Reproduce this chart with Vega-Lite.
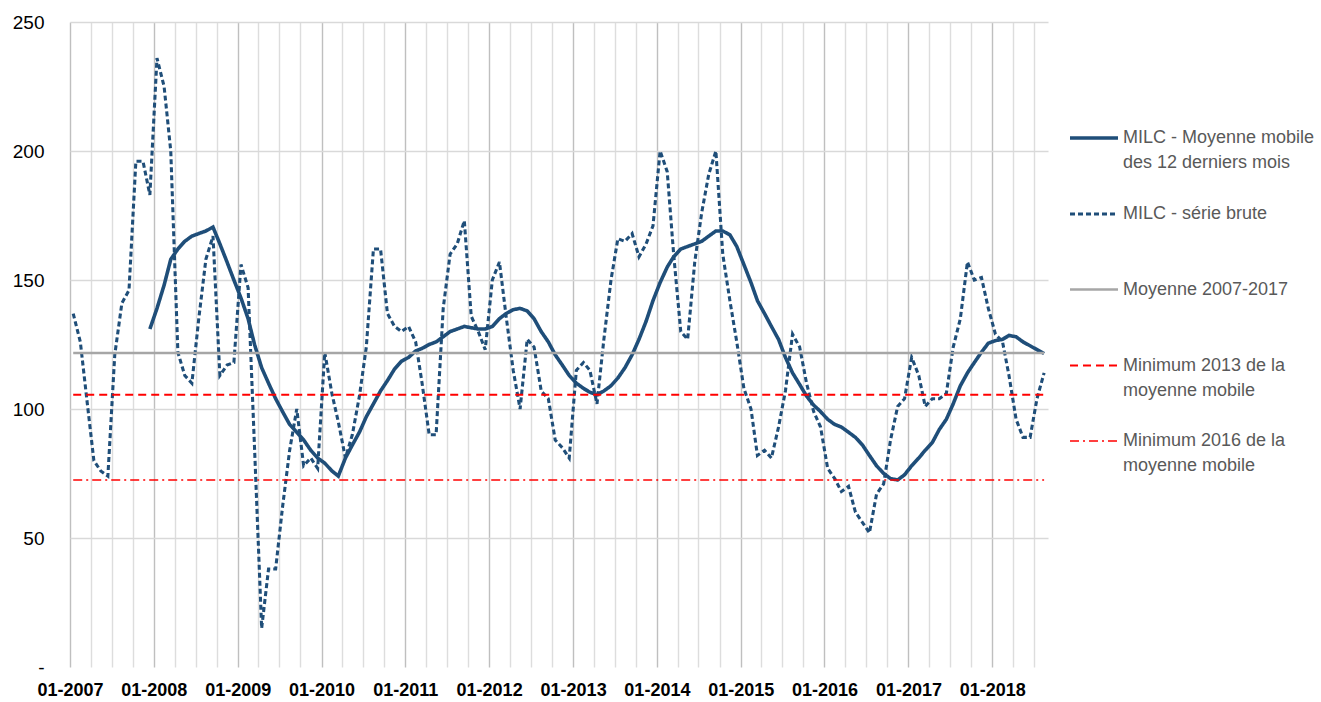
{
  "$schema": "https://vega.github.io/schema/vega-lite/v6.json",
  "width": 978,
  "height": 645,
  "autosize": {"type": "none"},
  "padding": {"left": 70, "top": 22, "right": 273, "bottom": 35},
  "background": "white",
  "config": {
    "view": {"stroke": null},
    "font": "Liberation Sans",
    "style": {"guide-label": {"lineHeight": 25}}
  },
  "datasets": {
    "monthly": [
      {"date":"2007-01-15","raw":137},{"date":"2007-02-15","raw":126},{"date":"2007-03-15","raw":104},{"date":"2007-04-15","raw":80},{"date":"2007-05-15","raw":76},{"date":"2007-06-15","raw":74},{"date":"2007-07-15","raw":121},{"date":"2007-08-15","raw":141},{"date":"2007-09-15","raw":146},{"date":"2007-10-15","raw":196},{"date":"2007-11-15","raw":196},{"date":"2007-12-15","raw":183,"ma":131},
      {"date":"2008-01-15","raw":236,"ma":139},{"date":"2008-02-15","raw":225,"ma":148},{"date":"2008-03-15","raw":200,"ma":158},{"date":"2008-04-15","raw":122,"ma":162},{"date":"2008-05-15","raw":113,"ma":165},{"date":"2008-06-15","raw":110,"ma":167},{"date":"2008-07-15","raw":135,"ma":168},{"date":"2008-08-15","raw":158,"ma":169},{"date":"2008-09-15","raw":167,"ma":170.5},{"date":"2008-10-15","raw":113,"ma":164},{"date":"2008-11-15","raw":117,"ma":157},{"date":"2008-12-15","raw":118,"ma":150},
      {"date":"2009-01-15","raw":156,"ma":143},{"date":"2009-02-15","raw":147,"ma":135},{"date":"2009-03-15","raw":85,"ma":125},{"date":"2009-04-15","raw":15,"ma":116},{"date":"2009-05-15","raw":38,"ma":110},{"date":"2009-06-15","raw":38,"ma":104},{"date":"2009-07-15","raw":62,"ma":99},{"date":"2009-08-15","raw":84,"ma":94},{"date":"2009-09-15","raw":100,"ma":91},{"date":"2009-10-15","raw":78,"ma":88},{"date":"2009-11-15","raw":81,"ma":84},{"date":"2009-12-15","raw":77,"ma":81},
      {"date":"2010-01-15","raw":122,"ma":79},{"date":"2010-02-15","raw":106,"ma":76},{"date":"2010-03-15","raw":95,"ma":74},{"date":"2010-04-15","raw":81,"ma":81},{"date":"2010-05-15","raw":90,"ma":86},{"date":"2010-06-15","raw":105,"ma":91},{"date":"2010-07-15","raw":124,"ma":97},{"date":"2010-08-15","raw":162,"ma":102},{"date":"2010-09-15","raw":162,"ma":107},{"date":"2010-10-15","raw":137,"ma":111},{"date":"2010-11-15","raw":132,"ma":115.5},{"date":"2010-12-15","raw":130,"ma":118.5},
      {"date":"2011-01-15","raw":132,"ma":120},{"date":"2011-02-15","raw":126,"ma":122.5},{"date":"2011-03-15","raw":110,"ma":123.5},{"date":"2011-04-15","raw":90,"ma":125},{"date":"2011-05-15","raw":90,"ma":126},{"date":"2011-06-15","raw":139,"ma":128},{"date":"2011-07-15","raw":160,"ma":130},{"date":"2011-08-15","raw":164,"ma":131},{"date":"2011-09-15","raw":173,"ma":132},{"date":"2011-10-15","raw":136,"ma":131.5},{"date":"2011-11-15","raw":130,"ma":131},{"date":"2011-12-15","raw":123,"ma":131},
      {"date":"2012-01-15","raw":150,"ma":132},{"date":"2012-02-15","raw":157,"ma":135},{"date":"2012-03-15","raw":136,"ma":137},{"date":"2012-04-15","raw":115,"ma":138.5},{"date":"2012-05-15","raw":100,"ma":139},{"date":"2012-06-15","raw":127,"ma":138},{"date":"2012-07-15","raw":124,"ma":135},{"date":"2012-08-15","raw":107,"ma":130},{"date":"2012-09-15","raw":104,"ma":126},{"date":"2012-10-15","raw":88,"ma":121},{"date":"2012-11-15","raw":85,"ma":117},{"date":"2012-12-15","raw":81,"ma":113},
      {"date":"2013-01-15","raw":115,"ma":110},{"date":"2013-02-15","raw":118,"ma":108},{"date":"2013-03-15","raw":115,"ma":106.5},{"date":"2013-04-15","raw":102,"ma":105.5},{"date":"2013-05-15","raw":127,"ma":107},{"date":"2013-06-15","raw":150,"ma":109},{"date":"2013-07-15","raw":166,"ma":112},{"date":"2013-08-15","raw":165,"ma":116},{"date":"2013-09-15","raw":168,"ma":121},{"date":"2013-10-15","raw":159,"ma":127},{"date":"2013-11-15","raw":164,"ma":134},{"date":"2013-12-15","raw":171,"ma":142},
      {"date":"2014-01-15","raw":200,"ma":149},{"date":"2014-02-15","raw":192,"ma":155},{"date":"2014-03-15","raw":160,"ma":159},{"date":"2014-04-15","raw":130,"ma":162},{"date":"2014-05-15","raw":127,"ma":163},{"date":"2014-06-15","raw":157,"ma":164},{"date":"2014-07-15","raw":176,"ma":165},{"date":"2014-08-15","raw":191,"ma":167},{"date":"2014-09-15","raw":200,"ma":169},{"date":"2014-10-15","raw":160,"ma":169},{"date":"2014-11-15","raw":142,"ma":167.5},{"date":"2014-12-15","raw":126,"ma":163},
      {"date":"2015-01-15","raw":108,"ma":156},{"date":"2015-02-15","raw":100,"ma":149},{"date":"2015-03-15","raw":82,"ma":142},{"date":"2015-04-15","raw":84,"ma":137},{"date":"2015-05-15","raw":81,"ma":132},{"date":"2015-06-15","raw":93,"ma":127},{"date":"2015-07-15","raw":107,"ma":120},{"date":"2015-08-15","raw":129,"ma":114},{"date":"2015-09-15","raw":124,"ma":109.5},{"date":"2015-10-15","raw":110,"ma":105},{"date":"2015-11-15","raw":99,"ma":101.5},{"date":"2015-12-15","raw":93,"ma":99},
      {"date":"2016-01-15","raw":77,"ma":96},{"date":"2016-02-15","raw":73,"ma":94},{"date":"2016-03-15","raw":68,"ma":93},{"date":"2016-04-15","raw":70,"ma":91},{"date":"2016-05-15","raw":60,"ma":89},{"date":"2016-06-15","raw":56,"ma":86},{"date":"2016-07-15","raw":52,"ma":82},{"date":"2016-08-15","raw":67,"ma":78},{"date":"2016-09-15","raw":71,"ma":75},{"date":"2016-10-15","raw":88,"ma":73},{"date":"2016-11-15","raw":101,"ma":72.5},{"date":"2016-12-15","raw":104,"ma":74.5},
      {"date":"2017-01-15","raw":120,"ma":78},{"date":"2017-02-15","raw":113,"ma":81},{"date":"2017-03-15","raw":101,"ma":84},{"date":"2017-04-15","raw":104,"ma":87},{"date":"2017-05-15","raw":104,"ma":92},{"date":"2017-06-15","raw":106,"ma":96},{"date":"2017-07-15","raw":124,"ma":102},{"date":"2017-08-15","raw":135,"ma":109},{"date":"2017-09-15","raw":157,"ma":114},{"date":"2017-10-15","raw":150,"ma":118},{"date":"2017-11-15","raw":151,"ma":122},{"date":"2017-12-15","raw":139,"ma":125.5},
      {"date":"2018-01-15","raw":129,"ma":126.5},{"date":"2018-02-15","raw":126,"ma":127},{"date":"2018-03-15","raw":113,"ma":128.5},{"date":"2018-04-15","raw":96,"ma":128},{"date":"2018-05-15","raw":89,"ma":126},{"date":"2018-06-15","raw":89,"ma":124.5},{"date":"2018-07-15","raw":104,"ma":123},{"date":"2018-08-15","raw":114,"ma":121.5}
    ],
    "reference": [
      {"date":"2007-01-15","series":"avg","value":121.7},{"date":"2018-08-15","series":"avg","value":121.7},
      {"date":"2007-01-15","series":"min2013","value":105.5},{"date":"2018-08-15","series":"min2013","value":105.5},
      {"date":"2007-01-15","series":"min2016","value":72.5},{"date":"2018-08-15","series":"min2016","value":72.5}
    ]
  },
  "encoding": {
    "x": {
      "field": "date",
      "type": "temporal",
      "scale": {"type": "utc", "domain": [{"year": 2007, "month": 1, "date": 1, "utc": true}, {"year": 2018, "month": 9, "date": 1, "utc": true}], "nice": false},
      "axis": {
        "title": null, "domain": false, "ticks": false, "tickSize": 0,
        "tickCount": {"interval": "month", "step": 3},
        "labelExpr": "utcmonth(datum.value) == 0 ? utcFormat(datum.value, '%m-%Y') : ''",
        "labelFont": "Liberation Sans", "labelFontWeight": "bold", "labelFontSize": 18, "labelColor": "#000000",
        "labelPadding": 14, "labelFlush": false, "labelOverlap": false, "labelBound": false,
        "grid": true,
        "gridColor": {"condition": {"test": "utcmonth(datum.value) == 0", "value": "#BFBFBF"}, "value": "#DDDDDD"},
        "gridWidth": 1.4
      }
    },
    "y": {
      "field": "value",
      "type": "quantitative",
      "scale": {"domain": [0, 250], "nice": false},
      "axis": {
        "title": null, "domain": false, "ticks": false, "tickSize": 0,
        "values": [0, 50, 100, 150, 200, 250],
        "labelExpr": "datum.value == 0 ? '-' : datum.label",
        "labelFont": "Liberation Sans", "labelFontSize": 19, "labelColor": "#000000", "labelPadding": 26,
        "grid": true, "gridColor": "#D9D9D9", "gridWidth": 1.4,
        "gridOpacity": {"condition": {"test": "datum.value == 0", "value": 0}, "value": 1}
      }
    },
    "color": {
      "field": "series", "type": "nominal",
      "scale": {"domain": ["ma", "raw", "avg", "min2013", "min2016"], "range": ["#1F4E79", "#1F4E79", "#A6A6A6", "#FF0000", "#FF0000"]},
      "legend": {
        "title": null, "orient": "none", "legendX": 998, "legendY": 90, "padding": 0,
        "symbolType": "stroke", "symbolSize": 2304, "labelFont": "Liberation Sans", "labelFontSize": 18, "labelColor": "#595959",
        "labelOffset": 3, "labelLimit": 400, "rowPadding": 16,
        "labelExpr": "datum.label == 'ma' ? ['MILC - Moyenne mobile', 'des 12 derniers mois'] : datum.label == 'raw' ? ['MILC - série brute', ''] : datum.label == 'avg' ? ['Moyenne 2007-2017', ''] : datum.label == 'min2013' ? ['Minimum 2013 de la', 'moyenne mobile'] : ['Minimum 2016 de la', 'moyenne mobile']"
      }
    },
    "strokeDash": {
      "field": "series", "type": "nominal",
      "scale": {"domain": ["ma", "raw", "avg", "min2013", "min2016"], "range": [[1, 0], [5, 3], [1, 0], [8, 5], [9, 4, 2, 4]]},
      "legend": {
        "title": null, "orient": "none", "legendX": 998, "legendY": 90, "padding": 0,
        "symbolType": "stroke", "symbolSize": 2304, "labelFont": "Liberation Sans", "labelFontSize": 18, "labelColor": "#595959",
        "labelOffset": 3, "labelLimit": 400, "rowPadding": 16,
        "labelExpr": "datum.label == 'ma' ? ['MILC - Moyenne mobile', 'des 12 derniers mois'] : datum.label == 'raw' ? ['MILC - série brute', ''] : datum.label == 'avg' ? ['Moyenne 2007-2017', ''] : datum.label == 'min2013' ? ['Minimum 2013 de la', 'moyenne mobile'] : ['Minimum 2016 de la', 'moyenne mobile']"
      }
    },
    "strokeWidth": {
      "field": "series", "type": "nominal",
      "scale": {"domain": ["ma", "raw", "avg", "min2013", "min2016"], "range": [3.6, 1.5, 2.8, 1.8, 1.8]},
      "legend": {
        "title": null, "orient": "none", "legendX": 998, "legendY": 90, "padding": 0,
        "symbolType": "stroke", "symbolSize": 2304, "labelFont": "Liberation Sans", "labelFontSize": 18, "labelColor": "#595959",
        "labelOffset": 3, "labelLimit": 400, "rowPadding": 16,
        "labelExpr": "datum.label == 'ma' ? ['MILC - Moyenne mobile', 'des 12 derniers mois'] : datum.label == 'raw' ? ['MILC - série brute', ''] : datum.label == 'avg' ? ['Moyenne 2007-2017', ''] : datum.label == 'min2013' ? ['Minimum 2013 de la', 'moyenne mobile'] : ['Minimum 2016 de la', 'moyenne mobile']"
      }
    }
  },
  "layer": [
    {
      "data": {"name": "monthly"},
      "transform": [{"fold": ["raw", "ma"], "as": ["series", "value"]}],
      "mark": {"type": "line", "interpolate": "linear"}
    },
    {
      "data": {"name": "reference"},
      "mark": {"type": "line"}
    }
  ]
}
